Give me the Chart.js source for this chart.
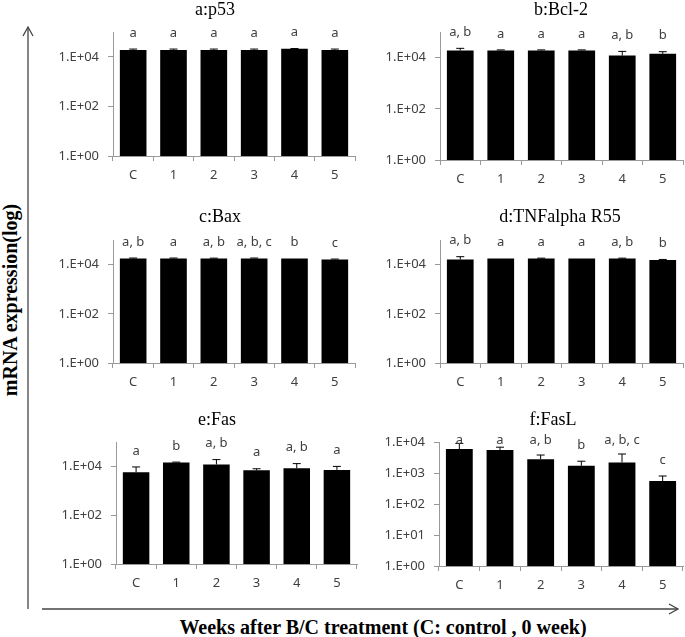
<!DOCTYPE html>
<html>
<head>
<meta charset="utf-8">
<script src="https://cdn.jsdelivr.net/npm/chart.js@4.4.1/dist/chart.umd.min.js"></script>
<style>
  body { margin: 0; background: #fff; }
  #wrap { position: relative; width: 685px; height: 637px; overflow: hidden; }
  canvas.panel { position: absolute; }
  .axisTitle { position: absolute; font: bold 20px 'Liberation Serif', serif; white-space: nowrap; color: #000; }
  #yTitle { left: 10px; top: 300px; transform: translate(-50%, -50%) rotate(-90deg); }
  #xTitle { left: 383px; top: 627px; transform: translate(-50%, -50%); }
</style>
</head>
<body>
<div id="wrap">
  <svg width="685" height="637" style="position:absolute;left:0;top:0">
    <g stroke="#444" stroke-width="1.3" fill="none">
      <line x1="28" y1="27" x2="28" y2="609"/>
      <polyline points="23,36 28,27 33,36"/>
      <line x1="42" y1="609" x2="678" y2="609"/>
      <polyline points="669,604 678,609 669,614"/>
    </g>
  </svg>
  <div class="axisTitle" id="yTitle">mRNA expression(log)</div>
  <div class="axisTitle" id="xTitle">Weeks after B/C treatment (C: control , 0 week)</div>
</div>
<script>
const categories = ['C', '1', '2', '3', '4', '5'];

const p53Mean = [19000, 19000, 19000, 19000, 21000, 19000];
const p53Sd = [1500, 1500, 1500, 1500, 500, 1500];
const p53Letters = ['a', 'a', 'a', 'a', 'a', 'a'];

const bcl2Mean = [19000, 19000, 19000, 19000, 12000, 14000];
const bcl2Sd = [4000, 1000, 1000, 1000, 5500, 3000];
const bcl2Letters = ['a, b', 'a', 'a', 'a', 'a, b', 'b'];

const baxMean = [17500, 17500, 17500, 17500, 17500, 16000];
const baxSd = [1000, 1000, 800, 1000, 0, 800];
const baxLetters = ['a, b', 'a', 'a, b', 'a, b, c', 'b', 'c'];

const tnfMean = [16000, 17500, 17500, 17500, 17500, 15500];
const tnfSd = [5000, 0, 800, 0, 800, 700];
const tnfLetters = ['a, b', 'a', 'a', 'a', 'a, b', 'b'];

const fasMean = [5700, 14500, 12000, 6900, 8300, 7200];
const fasSd = [3800, 500, 7000, 1100, 4700, 2800];
const fasLetters = ['a', 'b', 'a, b', 'a', 'a, b', 'a'];

const faslMean = [5900, 5500, 2800, 1700, 2200, 550];
const faslSd = [3100, 1300, 1000, 700, 1900, 250];
const faslLetters = ['a', 'a', 'a, b', 'b', 'a, b, c', 'c'];

const tickValues = [1, 100, 10000];
const faslTickValues = [1, 10, 100, 1000, 10000];

const smallFont = { family: 'Noto Sans', size: 13 };
const textColor = '#404040';
const axisColor = '#999';

// panel title, error bars and significance letters
const errorLetters = {
  id: 'errorLetters',
  afterDatasetsDraw(chart, args, opts) {
    const ctx = chart.ctx;
    const y = chart.scales.y;
    const values = chart.data.datasets[0].data;
    ctx.save();
    ctx.fillStyle = '#000';
    ctx.font = '18px "Liberation Serif"';
    ctx.textAlign = 'center';
    ctx.textBaseline = 'middle';
    ctx.fillText(opts.title, opts.titleX, opts.titleY);

    chart.getDatasetMeta(0).data.forEach((bar, i) => {
      let top = y.getPixelForValue(values[i] + opts.sd[i]);
      if (opts.sd[i] > 0) {
        ctx.strokeStyle = '#000';
        ctx.lineWidth = 1;
        ctx.beginPath();
        ctx.moveTo(bar.x, bar.y);
        ctx.lineTo(bar.x, top);
        ctx.moveTo(bar.x - 4, top);
        ctx.lineTo(bar.x + 4, top);
        ctx.stroke();
      } else {
        top = bar.y;
      }
      ctx.fillStyle = textColor;
      ctx.font = smallFont.size + 'px "' + smallFont.family + '"';
      ctx.fillText(opts.letters[i], bar.x, Math.max(top - 16, chart.chartArea.top - 2));
    });
    ctx.restore();
  }
};

const panels = [
  { title: 'a:p53', mean: p53Mean, sd: p53Sd, letters: p53Letters, ticks: tickValues, max: 1e5,
    l: 113, r: 355, t: 32, b: 156, ty: 10, tx: 215 },
  { title: 'b:Bcl-2', mean: bcl2Mean, sd: bcl2Sd, letters: bcl2Letters, ticks: tickValues, max: 1e5,
    l: 440, r: 683, t: 32, b: 160, ty: 10, tx: 561 },
  { title: 'c:Bax', mean: baxMean, sd: baxSd, letters: baxLetters, ticks: tickValues, max: 1e5,
    l: 113, r: 355, t: 240, b: 363, ty: 217, tx: 220 },
  { title: 'd:TNFalpha R55', mean: tnfMean, sd: tnfSd, letters: tnfLetters, ticks: tickValues, max: 1e5,
    l: 440, r: 683, t: 240, b: 363, ty: 217, tx: 560 },
  { title: 'e:Fas', mean: fasMean, sd: fasSd, letters: fasLetters, ticks: tickValues, max: 1e5,
    l: 116, r: 357, t: 442, b: 564, ty: 420, tx: 217 },
  { title: 'f:FasL', mean: faslMean, sd: faslSd, letters: faslLetters, ticks: faslTickValues, max: 1e4,
    l: 439, r: 683, t: 442, b: 566, ty: 420, tx: 553 }
];

const wrap = document.getElementById('wrap');
const axisW = 62;

panels.forEach((p) => {
  const left = p.l - axisW;
  const top = p.ty - 12;
  const width = p.r + 4 - left;
  const height = p.b - top + 30;

  const canvas = document.createElement('canvas');
  canvas.className = 'panel';
  canvas.width = width;
  canvas.height = height;
  canvas.style.left = left + 'px';
  canvas.style.top = top + 'px';
  wrap.appendChild(canvas);

  new Chart(canvas, {
    type: 'bar',
    data: {
      labels: categories,
      datasets: [{
        data: p.mean,
        backgroundColor: '#000',
        borderWidth: 0,
        barPercentage: 0.66,
        categoryPercentage: 1
      }]
    },
    options: {
      responsive: false,
      animation: false,
      devicePixelRatio: 1,
      layout: { padding: { left: 0, right: 4, top: p.t - top, bottom: 0 } },
      plugins: {
        legend: { display: false },
        tooltip: { enabled: false },
        title: { display: false },
        errorLetters: {
          sd: p.sd, letters: p.letters,
          title: p.title, titleX: p.tx - left, titleY: p.ty - top
        }
      },
      scales: {
        x: {
          afterFit: (scale) => { scale.height = 30; },
          grid: { drawOnChartArea: false, tickLength: 5, color: axisColor, offset: true },
          border: { color: axisColor },
          ticks: { color: textColor, font: smallFont, padding: 6 }
        },
        y: {
          type: 'logarithmic',
          min: 1,
          max: p.max,
          afterFit: (scale) => { scale.width = axisW; },
          afterBuildTicks: (scale) => { scale.ticks = p.ticks.map(v => ({ value: v })); },
          grid: { drawOnChartArea: false, tickLength: 5, color: axisColor },
          border: { color: axisColor },
          ticks: {
            color: textColor,
            font: smallFont,
            padding: 9,
            callback: (v) => '1.E+' + String(Math.round(Math.log10(v))).padStart(2, '0')
          }
        }
      }
    },
    plugins: [errorLetters]
  });
});
</script>
</body>
</html>
